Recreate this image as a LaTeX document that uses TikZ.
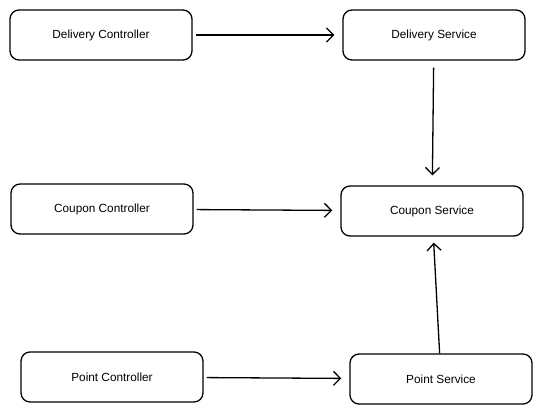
\documentclass[tikz,border=0pt]{standalone}
\usepackage{fontspec}
\setmainfont{Liberation Sans}
\usetikzlibrary{arrows.meta,positioning}

\begin{document}
\begin{tikzpicture}[x=1pt,y=-1pt,
  box/.style={draw,line width=1.3pt,rounded corners=9pt,minimum width=182pt,minimum height=50pt,font=\fontsize{11.8}{13}\selectfont},
  flow/.style={-{Straight Barb[length=7pt,width=14pt]},line width=1.3pt,shorten <=3pt,shorten >=8pt}]
  \useasboundingbox (0,0) rectangle (558,413);
  % controllers
  \node[box] (dctrl) at (101,35) {Delivery Controller};
  \node[box] (cctrl) at (102,209) {Coupon Controller};
  \node[box] (pctrl) at (112,377) {Point Controller};
  % services
  \node[box] (dsvc) at (434,35) {Delivery Service};
  \node[box] (csvc) at (432,211) {Coupon Service};
  \node[box] (psvc) at (441,379) {Point Service};
  % calls
  \draw[flow] (dctrl) -- (dsvc);
  \draw[flow] (cctrl) -- (csvc);
  \draw[flow] (pctrl) -- (psvc);
  \draw[flow,shorten <=7pt,shorten >=10pt] (dsvc) -- (csvc);
  \draw[flow,shorten <=0pt,shorten >=6pt] (psvc) -- (csvc);
\end{tikzpicture}
\end{document}
